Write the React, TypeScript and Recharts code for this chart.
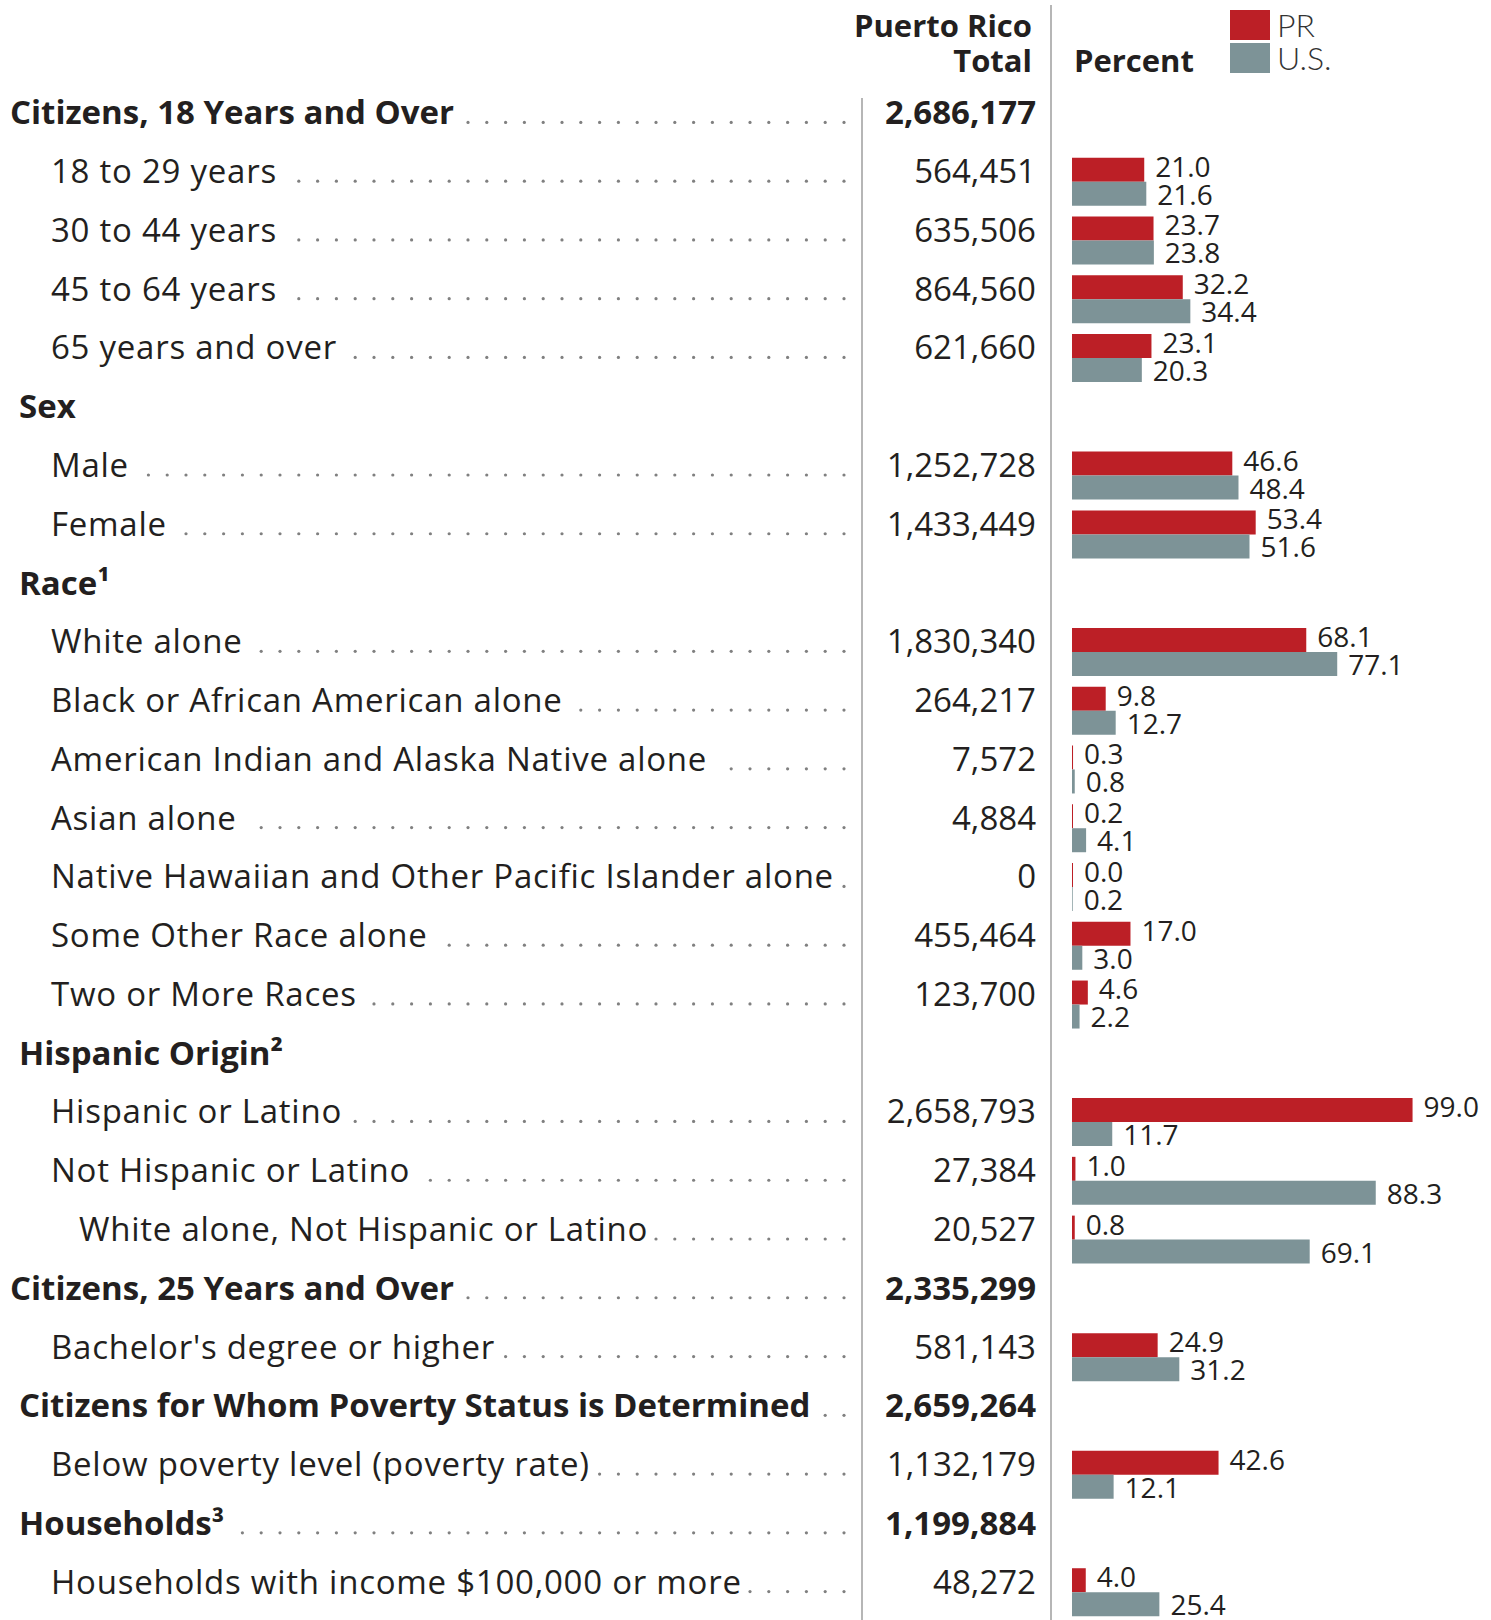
import React from "react";
import { BarChart, Bar, XAxis, YAxis, LabelList, Legend } from "recharts";

// Table rows, top to bottom
const rowLabels = [
  "Citizens, 18 Years and Over",
  "18 to 29 years",
  "30 to 44 years",
  "45 to 64 years",
  "65 years and over",
  "Sex",
  "Male",
  "Female",
  "Race¹",
  "White alone",
  "Black or African American alone",
  "American Indian and Alaska Native alone",
  "Asian alone",
  "Native Hawaiian and Other Pacific Islander alone",
  "Some Other Race alone",
  "Two or More Races",
  "Hispanic Origin²",
  "Hispanic or Latino",
  "Not Hispanic or Latino",
  "White alone, Not Hispanic or Latino",
  "Citizens, 25 Years and Over",
  "Bachelor's degree or higher",
  "Citizens for Whom Poverty Status is Determined",
  "Below poverty level (poverty rate)",
  "Households³",
  "Households with income $100,000 or more",
];

// 0 = section, 1 = sub-section, 2 = item, 3 = nested item
const rowLevels = [0, 2, 2, 2, 2, 1, 2, 2, 1, 2, 2, 2, 2, 2, 2, 2, 1, 2, 2, 3, 0, 2, 1, 2, 1, 2];

const rowTotals = [
  "2,686,177", "564,451", "635,506", "864,560", "621,660",
  "", "1,252,728", "1,433,449",
  "", "1,830,340", "264,217", "7,572", "4,884", "0", "455,464", "123,700",
  "", "2,658,793", "27,384", "20,527",
  "2,335,299", "581,143",
  "2,659,264", "1,132,179",
  "1,199,884", "48,272",
];

const prPercent = [
  null, 21.0, 23.7, 32.2, 23.1,
  null, 46.6, 53.4,
  null, 68.1, 9.8, 0.3, 0.2, 0.0, 17.0, 4.6,
  null, 99.0, 1.0, 0.8,
  null, 24.9,
  null, 42.6,
  null, 4.0,
];

const usPercent = [
  null, 21.6, 23.8, 34.4, 20.3,
  null, 48.4, 51.6,
  null, 77.1, 12.7, 0.8, 4.1, 0.2, 3.0, 2.2,
  null, 11.7, 88.3, 69.1,
  null, 31.2,
  null, 12.1,
  null, 25.4,
];

const PR_RED = "#BC1F26";
const US_GRAY = "#7D9397";
const INK = "#231F20";
const RULE = "#9E9E9E";
const FONT = "'Open Sans', sans-serif";
const ROW_SIZE = 33;
const ITEM_SPACING = 0.75;
const VALUE_SIZE = 28;

const WIDTH = 1491;
const HEIGHT = 1622;
const AXIS_WIDTH = 1072;
const INDENT = [10, 19, 51, 79];
const TOTAL_RIGHT = 1036;
const DOT_LAST = 844;
const DOT_STEP = 18.8;

const data = rowLabels.map((label, i) => ({
  row: i,
  label,
  pr: prPercent[i],
  us: usPercent[i],
}));

let measureCtx: CanvasRenderingContext2D | null = null;
function textWidth(s: string, weight: number, size: number, spacing: number) {
  if (!measureCtx) measureCtx = document.createElement("canvas").getContext("2d");
  if (!measureCtx) return s.length * (size * 0.55 + spacing);
  measureCtx.font = `${weight} ${size}px 'Open Sans'`;
  return measureCtx.measureText(s).width + s.length * spacing;
}

function RowTick(props: any) {
  const { y, payload } = props;
  const i = Number(payload.value);
  const level = rowLevels[i];
  const bold = level < 2;
  const weight = bold ? 700 : 400;
  const spacing = bold ? 0 : ITEM_SPACING;
  const label = rowLabels[i];
  const total = rowTotals[i];
  const x0 = INDENT[level];

  const dots = [];
  if (total) {
    const textEnd = x0 + textWidth(label, weight, ROW_SIZE, spacing);
    for (let x = DOT_LAST; x > textEnd + 7; x -= DOT_STEP) {
      dots.push(<circle key={x} cx={x} cy={y - 1} r={1.6} fill="#808080" />);
    }
  }

  return (
    <g>
      <text x={x0} y={y + 1} fontFamily={FONT} fontSize={ROW_SIZE} fontWeight={weight} letterSpacing={spacing} fill={INK}>
        {label}
      </text>
      {dots}
      {total && (
        <text x={TOTAL_RIGHT} y={y + 1} textAnchor="end" fontFamily={FONT} fontSize={ROW_SIZE} fontWeight={weight} fill={INK}>
          {total}
        </text>
      )}
    </g>
  );
}

function LegendBox({ payload }: any) {
  return (
    <svg width={120} height={70} style={{ overflow: "visible" }}>
      {(payload || []).map((item: any, i: number) => (
        <g key={item.value}>
          <rect x={0} y={i * 33} width={40} height={30} fill={item.color} />
          <text x={47} y={i * 33 + 27} fontFamily="Lato, sans-serif" fontWeight={300} fontSize={32} fill="#333">
            {item.value}
          </text>
        </g>
      ))}
    </svg>
  );
}

const fmt = (v: any) => (v == null ? "" : Number(v).toFixed(1));

export default function App() {
  return (
    <div style={{ position: "absolute", left: 0, top: 0, width: WIDTH, height: 1620, overflow: "hidden", background: "#fff" }}>
      <BarChart
        width={WIDTH}
        height={HEIGHT}
        data={data}
        layout="vertical"
        margin={{ top: 94, right: 75, bottom: 0, left: 0 }}
        barGap={0}
      >
        <XAxis type="number" domain={[0, 100]} hide />
        <YAxis
          type="category"
          dataKey="row"
          width={AXIS_WIDTH}
          interval={0}
          axisLine={false}
          tickLine={false}
          tick={<RowTick />}
        />
        <Legend
          layout="horizontal"
          verticalAlign="middle"
          align="center"
          wrapperStyle={{ left: 1230, top: 10, width: 120, height: 70 }}
          content={<LegendBox />}
        />
        <Bar dataKey="pr" name="PR" fill={PR_RED} barSize={24} minPointSize={1} isAnimationActive={false}>
          <LabelList dataKey="pr" position="right" offset={11} dy={-3} formatter={fmt} fontFamily={FONT} fontSize={VALUE_SIZE} fill={INK} />
        </Bar>
        <Bar dataKey="us" name="U.S." fill={US_GRAY} barSize={24} isAnimationActive={false}>
          <LabelList dataKey="us" position="right" offset={11} dy={1} formatter={fmt} fontFamily={FONT} fontSize={VALUE_SIZE} fill={INK} />
        </Bar>
      </BarChart>
      <svg width={WIDTH} height={1620} style={{ position: "absolute", left: 0, top: 0, pointerEvents: "none" }}>
        <text x={1032} y={37} textAnchor="end" fontFamily={FONT} fontSize={31} fontWeight={700} fill={INK}>
          Puerto Rico
        </text>
        <text x={1032} y={72} textAnchor="end" fontFamily={FONT} fontSize={31} fontWeight={700} fill={INK}>
          Total
        </text>
        <text x={1074} y={72} fontFamily={FONT} fontSize={31} fontWeight={700} fill={INK}>
          Percent
        </text>
        <line x1={862} y1={98} x2={862} y2={1620} stroke={RULE} strokeWidth={1.5} />
        <line x1={1051} y1={5} x2={1051} y2={1620} stroke={RULE} strokeWidth={1.5} />
      </svg>
    </div>
  );
}
